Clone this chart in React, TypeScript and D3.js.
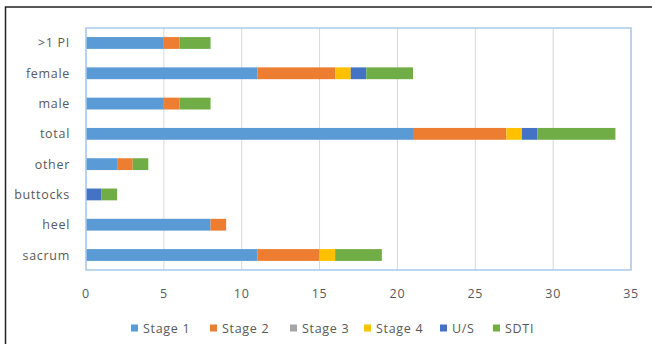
import React from "react";
import * as d3 from "d3";

const categories = [">1 PI", "female", "male", "total", "other", "buttocks", "heel", "sacrum"];
const seriesNames = ["Stage 1", "Stage 2", "Stage 3", "Stage 4", "U/S", "SDTI"];
const seriesColors = ["#5B9BD5", "#ED7D31", "#A5A5A5", "#FFC000", "#4472C4", "#70AD47"];

const stage1 = [5, 11, 5, 21, 2, 0, 8, 11];
const stage2 = [1, 5, 1, 6, 1, 0, 1, 4];
const stage3 = [0, 0, 0, 0, 0, 0, 0, 0];
const stage4 = [0, 1, 0, 1, 0, 0, 0, 1];
const unstageable = [0, 1, 0, 1, 0, 1, 0, 0];
const sdti = [2, 3, 2, 5, 1, 1, 0, 3];

const xTicks = [0, 5, 10, 15, 20, 25, 30, 35];

const W = 652;
const H = 344;
const plot = { left: 86, right: 631, top: 28, bottom: 270 };
const font = "'Open Sans', 'Liberation Sans', sans-serif";
const textColor = "#595959";
const fontSize = 12.5;
const spacing = 0.7;

export default function App() {
  const rows = categories.map((c, i) => ({
    category: c,
    "Stage 1": stage1[i],
    "Stage 2": stage2[i],
    "Stage 3": stage3[i],
    "Stage 4": stage4[i],
    "U/S": unstageable[i],
    SDTI: sdti[i],
  }));
  const stacked = d3.stack<any>().keys(seriesNames)(rows);

  const x = d3.scaleLinear().domain([0, 35]).range([plot.left, plot.right]);
  const y = d3
    .scaleBand()
    .domain(categories)
    .range([plot.top, plot.bottom])
    .paddingInner(0.61)
    .paddingOuter(0.3);

  const legendX = [131, 210, 290, 364, 440, 493];

  return (
    <svg
      width={W}
      height={H}
      style={{ position: "absolute", left: 0, top: 0, background: "#fff" }}
    >
      <rect x={5.5} y={7} width={700} height={400} fill="#fff" stroke="#222" strokeWidth={1.5} />
      {xTicks.map((t) => (
        <line key={t} x1={x(t)} x2={x(t)} y1={plot.top} y2={plot.bottom} stroke="#d9d9d9" strokeWidth={1} />
      ))}
      {stacked.map((s, si) =>
        s.map((d, i) =>
          d[1] - d[0] > 0 ? (
            <rect
              key={`${si}-${i}`}
              x={x(d[0])}
              width={x(d[1]) - x(d[0])}
              y={y(categories[i])!}
              height={y.bandwidth()}
              fill={seriesColors[si]}
            />
          ) : null
        )
      )}
      <rect
        x={plot.left}
        y={plot.top}
        width={plot.right - plot.left}
        height={plot.bottom - plot.top}
        fill="none"
        stroke="#a9c9ec"
        strokeWidth={1.5}
      />
      {categories.map((c) => (
        <text
          key={c}
          x={70}
          y={y(c)! + y.bandwidth() / 2}
          textAnchor="end"
          dominantBaseline="central"
          fontFamily={font}
          fontSize={fontSize}
          letterSpacing={spacing}
          fill={textColor}
        >
          {c}
        </text>
      ))}
      {xTicks.map((t) => (
        <text
          key={t}
          x={x(t)}
          y={293}
          textAnchor="middle"
          dominantBaseline="central"
          fontFamily={font}
          fontSize={fontSize}
          letterSpacing={spacing}
          fill={textColor}
        >
          {t}
        </text>
      ))}
      {seriesNames.map((n, i) => (
        <g key={n} transform={`translate(${legendX[i]},328)`}>
          <rect x={0} y={-3.5} width={7} height={7} fill={seriesColors[i]} />
          <text
            x={12}
            y={0}
            dominantBaseline="central"
            fontFamily={font}
            fontSize={fontSize}
            letterSpacing={spacing}
            fill={textColor}
          >
            {n}
          </text>
        </g>
      ))}
    </svg>
  );
}
